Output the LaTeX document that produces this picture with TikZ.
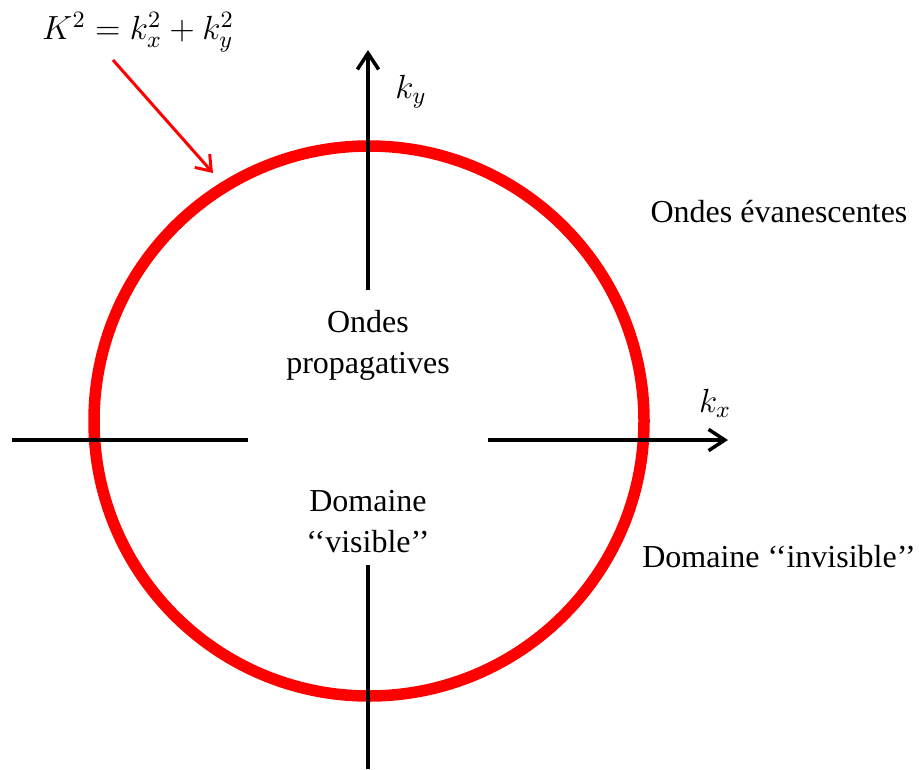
\documentclass[tikz,border=0pt]{standalone}
\usepackage{fix-cm}
\usepackage{fontspec}
\setmainfont{Liberation Serif}
\usetikzlibrary{arrows.meta}
\begin{document}
\begin{tikzpicture}[x=0.4pt,y=0.4pt,
	every node/.style={font=\fontsize{12.8}{16.4}\selectfont},
	axis/.style={black,line width=1.4pt,-{Straight Barb[length=6.5pt,width=8.5pt,line width=1.4pt]}},
	axisbare/.style={black,line width=1.4pt},
	wave/.style={red,line width=4.6pt},
	pointer/.style={red,line width=1.2pt,-{Straight Barb[length=5.5pt,width=8pt,line width=1.2pt]}},
	label/.style={align=center,inner sep=0pt},
	maths/.style={font=\fontsize{13.4}{16}\selectfont}
	]
	\useasboundingbox (0,0) rectangle (919,769);
	\coordinate (O) at (369,348);
	\draw[wave] (O) circle (275);
	\coordinate (kyB) at (368,479);
	\coordinate (kyT) at (368,719);
	\coordinate (kyL) at (368,204);
	\coordinate (kyE) at (368,0);
	\coordinate (kxL) at (12,329);
	\coordinate (kxM) at (248,329);
	\coordinate (kxB) at (488,329);
	\coordinate (kxT) at (728,329);
	\draw[axis] (kyB) -- (kyT);
	\draw[axisbare] (kyL) -- (kyE);
	\draw[axisbare] (kxL) -- (kxM);
	\draw[axis] (kxB) -- (kxT);
	\node[maths] (eq) at (138,737) {$K^2=k_x^2+k_y^2$};
	\coordinate (eqfoot) at (113,709);
	\coordinate (hit) at (213,596);
	\draw[pointer] (eqfoot) -- (hit);
	\node[maths] (ky) at (411,677) {$k_y$};
	\node[maths] (kx) at (715,366) {$k_x$};
	\node[label] (prop) at (368,424) {Ondes\\propagatives};
	\node[label] (vis) at (368,247) {Domaine\\‘‘visible’’};
	\node[anchor=base] (evan) at (779,547) {Ondes évanescentes};
	\node[anchor=base] (invis) at (779,202) {Domaine ‘‘invisible’’};
\end{tikzpicture}
\end{document}
